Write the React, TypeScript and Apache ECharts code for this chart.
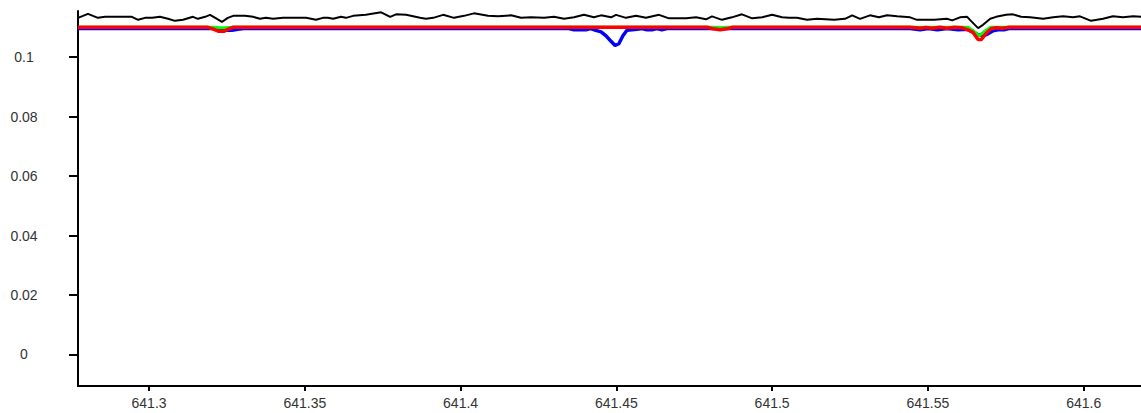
import React, { useEffect, useRef } from "react";
import * as echarts from "echarts";

// Wavelength ticks and value ticks
const xTicks = [641.3, 641.35, 641.4, 641.45, 641.5, 641.55, 641.6];
const yTicks = [0, 0.02, 0.04, 0.06, 0.08, 0.1];

// Black (observed) spectrum
const blackX = [
  641.2772, 641.2788, 641.2804, 641.282, 641.2836, 641.2859, 641.2891, 641.2923, 641.2945, 641.2965,
  641.2987, 641.301, 641.3035, 641.3061, 641.3083, 641.3109, 641.3141, 641.3157, 641.318, 641.3196,
  641.3218, 641.3234, 641.3253, 641.327, 641.3308, 641.3334,
  641.3356, 641.3375, 641.3398, 641.343, 641.3504, 641.3536, 641.3558, 641.3574, 641.3591, 641.3616,
  641.3632, 641.3655, 641.3696, 641.3745, 641.3774, 641.3793, 641.3825, 641.387, 641.3889, 641.3912,
  641.3944, 641.3979, 641.4011, 641.4043, 641.4088, 641.412, 641.4162, 641.4194, 641.4226, 641.4268,
  641.43, 641.4332, 641.4364, 641.4396, 641.4428, 641.4451, 641.4483,
  641.4499, 641.4531, 641.4563, 641.4595, 641.4637, 641.4669, 641.4724, 641.4756, 641.4788, 641.4807,
  641.4839, 641.4871, 641.4903, 641.4936, 641.4968, 641.5, 641.5032,
  641.5054, 641.508, 641.5112, 641.5144, 641.5199, 641.5234, 641.5257, 641.5282, 641.5314, 641.5343,
  641.5369, 641.5401, 641.5443, 641.5465, 641.552, 641.5561, 641.5578, 641.5603, 641.5626,
  641.5635, 641.5661, 641.5677, 641.57, 641.5719, 641.5751, 641.5773, 641.5799, 641.5828, 641.587,
  641.5902, 641.5934, 641.5966, 641.5988, 641.6024, 641.6062, 641.6094, 641.6126, 641.6159, 641.6184,
];
const blackY = [
  0.1132, 0.11387, 0.11455, 0.11387, 0.1132, 0.11354, 0.11354, 0.11354, 0.11354, 0.11253,
  0.1132, 0.1132, 0.11354, 0.11287, 0.11219, 0.11253, 0.11354, 0.11287, 0.11354, 0.11421,
  0.11287, 0.11186, 0.1132, 0.11387, 0.11387, 0.11354,
  0.11287, 0.1132, 0.11287, 0.1132, 0.1132, 0.11253, 0.1132, 0.1132, 0.11287, 0.11354,
  0.1132, 0.11387, 0.11421, 0.11505, 0.11354, 0.11438, 0.11421, 0.1132, 0.11287, 0.1132,
  0.11421, 0.1132, 0.11387, 0.11471, 0.11387, 0.11371, 0.11404, 0.1132, 0.11337, 0.1132,
  0.11354, 0.11287, 0.11337, 0.11421, 0.11337, 0.11404, 0.11337,
  0.11421, 0.1132, 0.11387, 0.1132, 0.11421, 0.11303, 0.11303, 0.11337, 0.1127, 0.11371,
  0.11253, 0.11337, 0.11438, 0.11303, 0.11337, 0.11421, 0.11337,
  0.1132, 0.1132, 0.11253, 0.11287, 0.11253, 0.11287, 0.11404, 0.11287, 0.11404, 0.11337,
  0.11404, 0.11371, 0.11337, 0.11253, 0.11253, 0.11287, 0.11236, 0.11337, 0.11354,
  0.11253, 0.10974, 0.11085, 0.11287, 0.11354, 0.11421, 0.11438, 0.11354, 0.11337, 0.11287,
  0.11337, 0.11371, 0.11337, 0.11371, 0.11219, 0.11287, 0.11371, 0.11337, 0.11371, 0.11354,
];

// Blue model
const blueX = [
  641.2772, 641.3218, 641.3234, 641.325, 641.3266, 641.3285, 641.3304,
  641.4348, 641.4364, 641.4383, 641.4402, 641.4418, 641.4434, 641.4451, 641.4467, 641.4483, 641.4496,
  641.4508, 641.4521, 641.4534, 641.455, 641.4566, 641.4582, 641.4598, 641.4614, 641.463, 641.4646,
  641.4662, 641.5443, 641.5475, 641.5501, 641.553, 641.5562, 641.5597, 641.5626, 641.5645, 641.5661,
  641.5677, 641.5693, 641.5709, 641.5725, 641.5744, 641.576, 641.6184,
];
const blueY = [
  0.10961, 0.10961, 0.10934, 0.109, 0.109, 0.10934, 0.10961,
  0.10961, 0.10917, 0.10917, 0.10917, 0.10961, 0.109, 0.1085, 0.10716, 0.10530, 0.1039,
  0.1045, 0.10716, 0.109, 0.10917, 0.10934, 0.10961, 0.10917, 0.10917, 0.10961, 0.10917,
  0.10961, 0.10961, 0.10917, 0.10961, 0.10917, 0.10961, 0.10917, 0.10934, 0.1085, 0.1075,
  0.10716, 0.10783, 0.10884, 0.10917, 0.10917, 0.10961, 0.10961,
];

// Green model
const greenX = [
  641.2772, 641.3205, 641.3228, 641.3247, 641.3269, 641.481, 641.4833, 641.4855,
  641.5629, 641.565, 641.5664, 641.568, 641.57, 641.6184,
];
const greenY = [
  0.11, 0.11, 0.10984, 0.1099, 0.11, 0.11, 0.1099, 0.11,
  0.11, 0.1085, 0.10716, 0.1085, 0.11, 0.11,
];

// Red model
const redX = [
  641.2772, 641.3189, 641.3205, 641.3224, 641.324, 641.3253, 641.3269,
  641.4794, 641.481, 641.4833, 641.4855, 641.4871,
  641.5443, 641.5475, 641.5494, 641.5514, 641.5539, 641.5561, 641.5581, 641.561, 641.5629, 641.5645,
  641.5661, 641.5671, 641.5687, 641.5703, 641.5719, 641.5738, 641.5757, 641.6184,
];
const redY = [
  0.11, 0.11, 0.10951, 0.10867, 0.10867, 0.10934, 0.11,
  0.11, 0.10951, 0.10917, 0.10951, 0.11,
  0.11, 0.10967, 0.11, 0.10967, 0.11, 0.10967, 0.11, 0.10984, 0.10917, 0.1083,
  0.1059, 0.1059, 0.10800, 0.10951, 0.10984, 0.10967, 0.11, 0.11,
];

const pairs = (xs: number[], ys: number[]) => xs.map((x, i) => [x, ys[i]]);

export default function App() {
  const ref = useRef<HTMLDivElement>(null);
  useEffect(() => {
    const chart = echarts.init(ref.current!, null, { renderer: "svg" });
    const labelStyle = {
      color: "#333",
      fontFamily: "Liberation Sans, Arial, sans-serif",
      fontSize: 14,
    };
    chart.setOption({
      animation: false,
      backgroundColor: "#fff",
      grid: { left: 78, top: 11, right: 0, bottom: 27 },
      xAxis: {
        type: "value",
        min: 641.2772,
        max: 641.6184,
        splitLine: { show: false },
        axisLine: { onZero: false, lineStyle: { color: "#000", width: 2 } },
        axisTick: { customValues: xTicks, length: 5, lineStyle: { color: "#000", width: 2 } },
        axisLabel: { ...labelStyle, customValues: xTicks, margin: 10 },
      },
      yAxis: {
        type: "value",
        min: -0.0106,
        max: 0.1155,
        splitLine: { show: false },
        axisLine: { show: true, onZero: false, lineStyle: { color: "#000", width: 2 } },
        axisTick: { show: true, customValues: yTicks, length: 9, lineStyle: { color: "#000", width: 2 } },
        axisLabel: { ...labelStyle, customValues: yTicks, margin: 54, align: "center" },
      },
      series: [
        {
          type: "line",
          data: pairs(blueX, blueY),
          showSymbol: false,
          lineStyle: { color: "#0000ff", width: 3.5 },
          itemStyle: { color: "#0000ff" },
        },
        {
          type: "line",
          data: pairs(greenX, greenY),
          showSymbol: false,
          lineStyle: { color: "#00ff00", width: 3 },
          itemStyle: { color: "#00ff00" },
        },
        {
          type: "line",
          data: pairs(redX, redY),
          showSymbol: false,
          lineStyle: { color: "#ff0000", width: 3.5 },
          itemStyle: { color: "#ff0000" },
        },
        {
          type: "line",
          data: pairs(blackX, blackY),
          showSymbol: false,
          lineStyle: { color: "#000000", width: 2 },
          itemStyle: { color: "#000000" },
        },
      ],
    });
    return () => chart.dispose();
  }, []);
  return (
    <div
      ref={ref}
      style={{ position: "absolute", left: 0, top: 0, width: 1141, height: 413 }}
    />
  );
}
